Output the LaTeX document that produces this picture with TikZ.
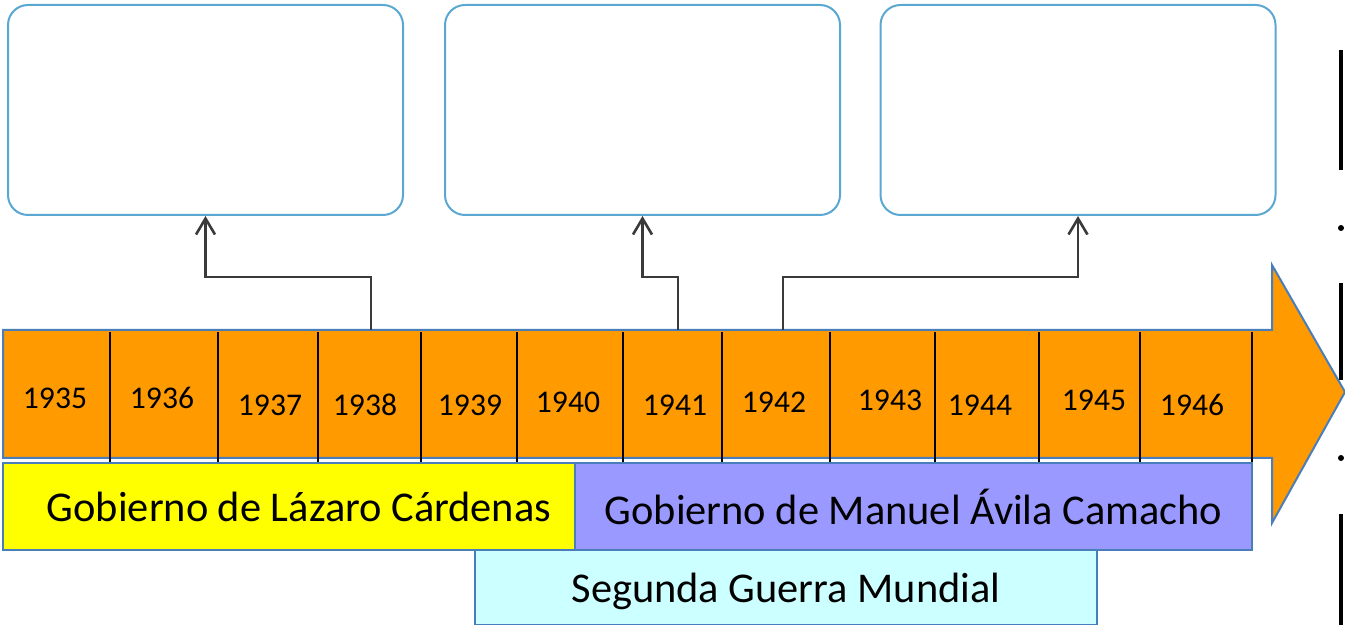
\documentclass[tikz,border=0pt]{standalone}
\usepackage{fontspec}
\setmainfont{Carlito}
\usetikzlibrary{arrows.meta}

\definecolor{naranja}{HTML}{FF9A00}
\definecolor{borde}{HTML}{4A7EBB}
\definecolor{cajaborde}{HTML}{5AA8D2}
\definecolor{amarillo}{HTML}{FFFF00}
\definecolor{lila}{HTML}{9999FF}
\definecolor{celeste}{HTML}{CCFFFF}
\definecolor{gristrazo}{HTML}{3A3A3A}

\begin{document}
\begin{tikzpicture}[x=0.5pt,y=-0.5pt,
    caja/.style={draw=cajaborde, line width=1pt, rounded corners=10pt,
        minimum width=197.5pt, minimum height=105pt, inner sep=0pt},
    conector/.style={draw=gristrazo, line width=1.3pt,
        -{Straight Barb[length=8pt,width=9.5pt]}},
    divisor/.style={draw=black, line width=0.6pt},
    anio/.style={font=\fontsize{15.8pt}{18pt}\selectfont},
    banda/.style={draw=borde, line width=1pt, inner sep=0pt,
        font=\fontsize{21.2pt}{24pt}\selectfont}
]
\useasboundingbox (0,0) rectangle (1345,625);

% ---- Empty boxes ----
\node[caja] (caja1) at (205.5,110) {};
\node[caja] (caja2) at (642.5,110) {};
\node[caja] (caja3) at (1078,110) {};

% ---- Timeline arrow ----
\draw[fill=naranja, draw=borde, line width=1pt, line join=miter]
    (3,330) -- (1272,330) -- (1272,265) -- (1345,392)
    -- (1272,523) -- (1272,458) -- (3,458) -- cycle;

% ---- Year dividers ----
\foreach \x in {110,218,318,421,517,623,722,830,935,1039,1140,1252}
    \draw[divisor] (\x,332) -- (\x,462);

% ---- Years ----
\foreach \anio/\x/\y in {1935/55/398, 1936/162/398, 1937/270/405,
    1938/365/405, 1939/470/405, 1940/568/402, 1941/675/405,
    1942/774/402, 1943/890/400, 1944/980/405, 1945/1094/400,
    1946/1192/405}
    \node[anio] (a\anio) at (\x,\y) {\anio};

% ---- Periods ----
\node[banda, fill=amarillo, minimum width=286pt, minimum height=43.5pt]
    (cardenas) at (289,506.5) {\hspace*{10pt}Gobierno de Lázaro Cárdenas};
\node[banda, fill=lila, minimum width=338.5pt, minimum height=43.5pt]
    (avila) at (913.5,506.5) {Gobierno de Manuel Ávila Camacho};
\node[banda, fill=celeste, minimum width=311pt, minimum height=37.5pt,
    text depth=0pt] (guerra) at (786,587.5) {Segunda Guerra Mundial};

% ---- Connectors ----
\coordinate (t1) at (371,330);
\coordinate (t2) at (678,330);
\coordinate (t3) at (783,330);
\draw[conector] (t1) -- ++(0,-53) -| (caja1.south);
\draw[conector] (t2) -- ++(0,-53) -| (caja2.south);
\draw[conector] (t3) -- ++(0,-53) -| (caja3.south);

% ---- Page edge marks ----
\draw[line width=2pt] (1341,50) -- (1341,170);
\fill (1341,228) circle (1.5pt);
\draw[line width=2pt] (1341,283) -- (1341,380);
\fill (1341,458) circle (1.5pt);
\draw[line width=2pt] (1341,514) -- (1341,625);

\end{tikzpicture}
\end{document}
